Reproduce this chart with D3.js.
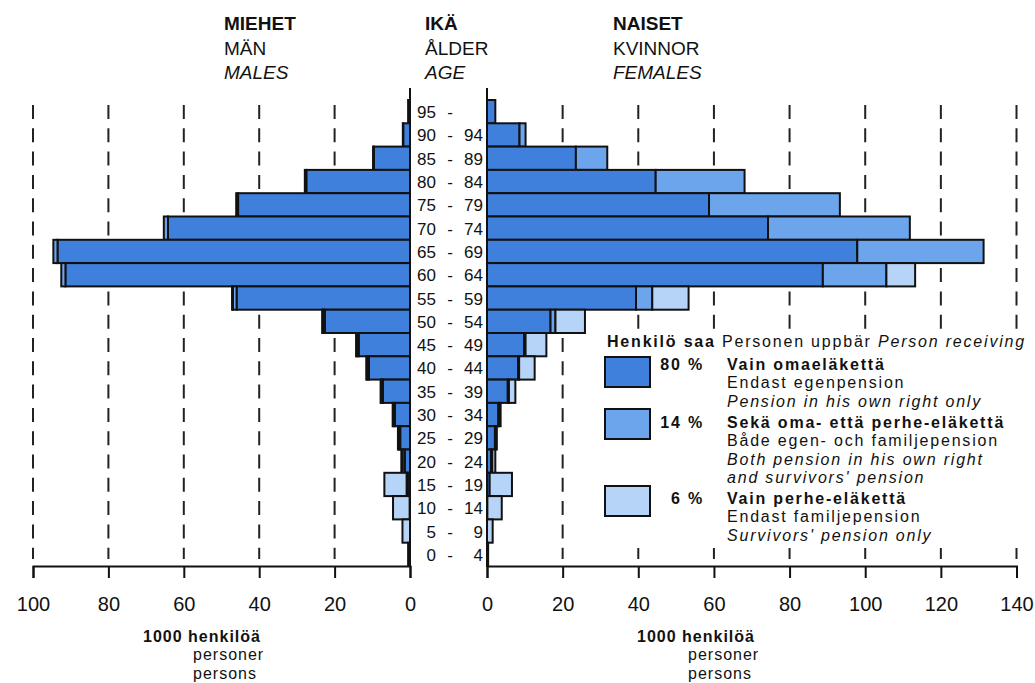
<!DOCTYPE html>
<html>
<head>
<meta charset="utf-8">
<script src="https://cdn.jsdelivr.net/npm/d3@7/dist/d3.min.js"></script>
<style>
  html, body { margin: 0; padding: 0; background: #fff; }
  svg { display: block; }
  text { font-family: "Liberation Sans", Arial, Helvetica, sans-serif; fill: #111; }
</style>
</head>
<body>
<svg id="chart" width="1035" height="683"></svg>
<script>
// ---- Data (1000 persons), rows from oldest (top) to youngest (bottom) ----
const ageLow  = ["95", "90", "85", "80", "75", "70", "65", "60", "55", "50", "45", "40", "35", "30", "25", "20", "15", "10", "5", "0"];
const ageHigh = ["",   "94", "89", "84", "79", "74", "69", "64", "59", "54", "49", "44", "39", "34", "29", "24", "19", "14", "9", "4"];

// Males
const maleOwn  = [0.5, 1.8, 9.6, 27.5, 45.6, 64.2, 93.5, 91.4, 46.0, 22.6, 13.6, 10.9, 7.2, 4.0, 2.6, 1.4, 0.6, 0.1, 0, 0];
const maleBoth = [0, 0.1, 0.2, 0.4, 0.5, 1.1, 1.1, 1.1, 1.0, 0.5, 0.5, 0.5, 0.4, 0.4, 0.4, 0.6, 0.3, 0, 0, 0];
const maleSurv = [0, 0, 0, 0, 0, 0, 0, 0, 0.2, 0.2, 0.2, 0.2, 0.2, 0.2, 0.2, 0.3, 5.9, 4.4, 2.0, 0.5];

// Females
const femaleOwn  = [2.2, 8.6, 23.5, 44.6, 58.7, 74.3, 97.9, 88.8, 39.4, 16.8, 9.8, 8.2, 5.5, 3.0, 2.1, 1.1, 0.7, 0.1, 0, 0];
const femaleBoth = [0, 1.6, 8.3, 23.5, 34.6, 37.5, 33.4, 16.8, 4.3, 1.3, 0.4, 0.3, 0.3, 0.2, 0.1, 0.3, 0, 0, 0, 0];
const femaleSurv = [0, 0, 0, 0, 0, 0, 0, 7.6, 9.6, 7.8, 5.5, 4.1, 1.7, 0.4, 0.4, 0.8, 5.9, 3.8, 1.5, 0.3];

const maleTicks   = [0, 20, 40, 60, 80, 100];
const femaleTicks = [0, 20, 40, 60, 80, 100, 120, 140];

const seriesKeys = ["own", "both", "surv"];
const seriesColors = ["#3f80dc", "#6da5ec", "#b6d4f7"];
const legendPct = ["80 %", "14 %", "6 %"];
const legendLines = [
  [["Vain omaeläkettä", "b"], ["Endast egenpension", "n"], ["Pension in his own right only", "i"]],
  [["Sekä oma- että perhe-eläkettä", "b"], ["Både egen- och familjepension", "n"], ["Both pension in his own right", "i"], ["and survivors' pension", "i"]],
  [["Vain perhe-eläkettä", "b"], ["Endast familjepension", "n"], ["Survivors' pension only", "i"]]
];

// ---- Layout ----
const svg = d3.select("#chart");
svg.append("rect").attr("width", 1035).attr("height", 683).attr("fill", "#fff");

const axisY = 566;
const xM = d3.scaleLinear().domain([0, 100]).range([410, 33]);
const xF = d3.scaleLinear().domain([0, 140]).range([487, 1016.5]);
const y = d3.scaleBand().domain(d3.range(ageLow.length)).range([100, axisY]).padding(0);
const step = y.step();

// dashed gridlines
function grid(scale, ticks) {
  svg.append("g").selectAll("line")
    .data(ticks.filter(t => t > 0))
    .join("line")
    .attr("x1", d => scale(d)).attr("x2", d => scale(d))
    .attr("y1", 105).attr("y2", 559)
    .attr("stroke", "#222").attr("stroke-width", 2)
    .attr("stroke-dasharray", `14 ${step - 14}`);
}
grid(xM, maleTicks);
grid(xF, femaleTicks);

// stacked bars
function stackRows(own, both, surv) {
  const rows = [];
  own.forEach((v, i) => {
    const vals = [own[i], both[i], surv[i]];
    let acc = 0;
    vals.forEach((w, k) => {
      if (w > 0) rows.push({ i, k, x0: acc, x1: acc + w });
      acc += w;
    });
  });
  return rows;
}
function drawBars(scale, rows, left) {
  svg.append("g").selectAll("rect")
    .data(rows)
    .join("rect")
    .attr("x", d => left ? scale(d.x1) : scale(d.x0))
    .attr("width", d => Math.abs(scale(d.x1) - scale(d.x0)))
    .attr("y", d => y(d.i))
    .attr("height", y.bandwidth())
    .attr("fill", d => seriesColors[d.k])
    .attr("stroke", "#111").attr("stroke-width", 2);
}
drawBars(xM, stackRows(maleOwn, maleBoth, maleSurv), true);
drawBars(xF, stackRows(femaleOwn, femaleBoth, femaleSurv), false);

// vertical axis lines
svg.append("line").attr("x1", xM(0)).attr("x2", xM(0)).attr("y1", 88).attr("y2", axisY)
  .attr("stroke", "#111").attr("stroke-width", 2);
svg.append("line").attr("x1", xF(0)).attr("x2", xF(0)).attr("y1", 88).attr("y2", axisY)
  .attr("stroke", "#111").attr("stroke-width", 2);

// bottom axes
function drawAxis(scale, ticks) {
  const g = svg.append("g").attr("transform", `translate(0,${axisY})`)
    .call(d3.axisBottom(scale).tickValues(ticks).tickSize(12).tickPadding(19).tickFormat(d3.format("d")));
  g.select(".domain").attr("stroke", "#111").attr("stroke-width", 2);
  g.selectAll(".tick line").attr("stroke", "#111").attr("stroke-width", 2);
  g.selectAll(".tick text").style("font-size", "20px").attr("fill", "#111")
    .style("font-family", "'Liberation Sans Narrow', 'Liberation Sans', Arial, sans-serif");
}
drawAxis(xM, maleTicks);
drawAxis(xF, femaleTicks);

// age labels
const ageG = svg.append("g").style("font-size", "17px");
ageG.selectAll("text.lo").data(ageLow).join("text").attr("class", "lo")
  .attr("x", 436).attr("y", (d, i) => y(i) + step / 2 + 6.5).attr("text-anchor", "end").text(d => d);
ageG.selectAll("text.dash").data(ageLow).join("text").attr("class", "dash")
  .attr("x", 450).attr("y", (d, i) => y(i) + step / 2 + 6.5).attr("text-anchor", "middle").text("-");
ageG.selectAll("text.hi").data(ageHigh).join("text").attr("class", "hi")
  .attr("x", 483).attr("y", (d, i) => y(i) + step / 2 + 6.5).attr("text-anchor", "end").text(d => d);

// headers
function header(x, lines) {
  const g = svg.append("g").style("font-size", "19px");
  lines.forEach((t, k) => {
    g.append("text").attr("x", x).attr("y", 30 + k * 24.5).text(t)
      .style("font-weight", k === 0 ? "bold" : "normal")
      .style("font-style", k === 2 ? "italic" : "normal");
  });
}
header(224, ["MIEHET", "MÄN", "MALES"]);
header(425, ["IKÄ", "ÅLDER", "AGE"]);
header(613, ["NAISET", "KVINNOR", "FEMALES"]);

// unit labels
function unitLabel(x, x2) {
  const g = svg.append("g").style("font-size", "16px").style("letter-spacing", "1px");
  g.append("text").attr("x", x).attr("y", 642).style("font-weight", "bold").text("1000 henkilöä");
  g.append("text").attr("x", x2).attr("y", 660).text("personer");
  g.append("text").attr("x", x2).attr("y", 679).text("persons");
}
unitLabel(143, 193);
unitLabel(637, 688);

// legend
const lg = svg.append("g");
lg.append("rect").attr("x", 598).attr("y", 330).attr("width", 437).attr("height", 218).attr("fill", "#fff");
const lgText = lg.append("g").style("font-size", "16px").style("letter-spacing", "1.8px");
const head = lgText.append("text").attr("x", 607).attr("y", 347);
head.append("tspan").style("font-weight", "bold").text("Henkilö saa");
head.append("tspan").text(" Personen uppbär ");
head.append("tspan").style("font-style", "italic").text("Person receiving");

const boxY = [357, 409, 486];
const textY = [370, 428, 504];
seriesKeys.forEach((key, k) => {
  lg.append("rect").attr("x", 605).attr("y", boxY[k]).attr("width", 45).attr("height", 30)
    .attr("fill", seriesColors[k]).attr("stroke", "#111").attr("stroke-width", 2);
  lgText.append("text").attr("x", 704).attr("y", textY[k]).attr("text-anchor", "end")
    .style("font-weight", "bold").text(legendPct[k]);
  legendLines[k].forEach((ln, j) => {
    lgText.append("text").attr("x", 727).attr("y", textY[k] + j * 18.3)
      .style("font-weight", ln[1] === "b" ? "bold" : "normal")
      .style("font-style", ln[1] === "i" ? "italic" : "normal")
      .text(ln[0]);
  });
});
</script>
</body>
</html>
